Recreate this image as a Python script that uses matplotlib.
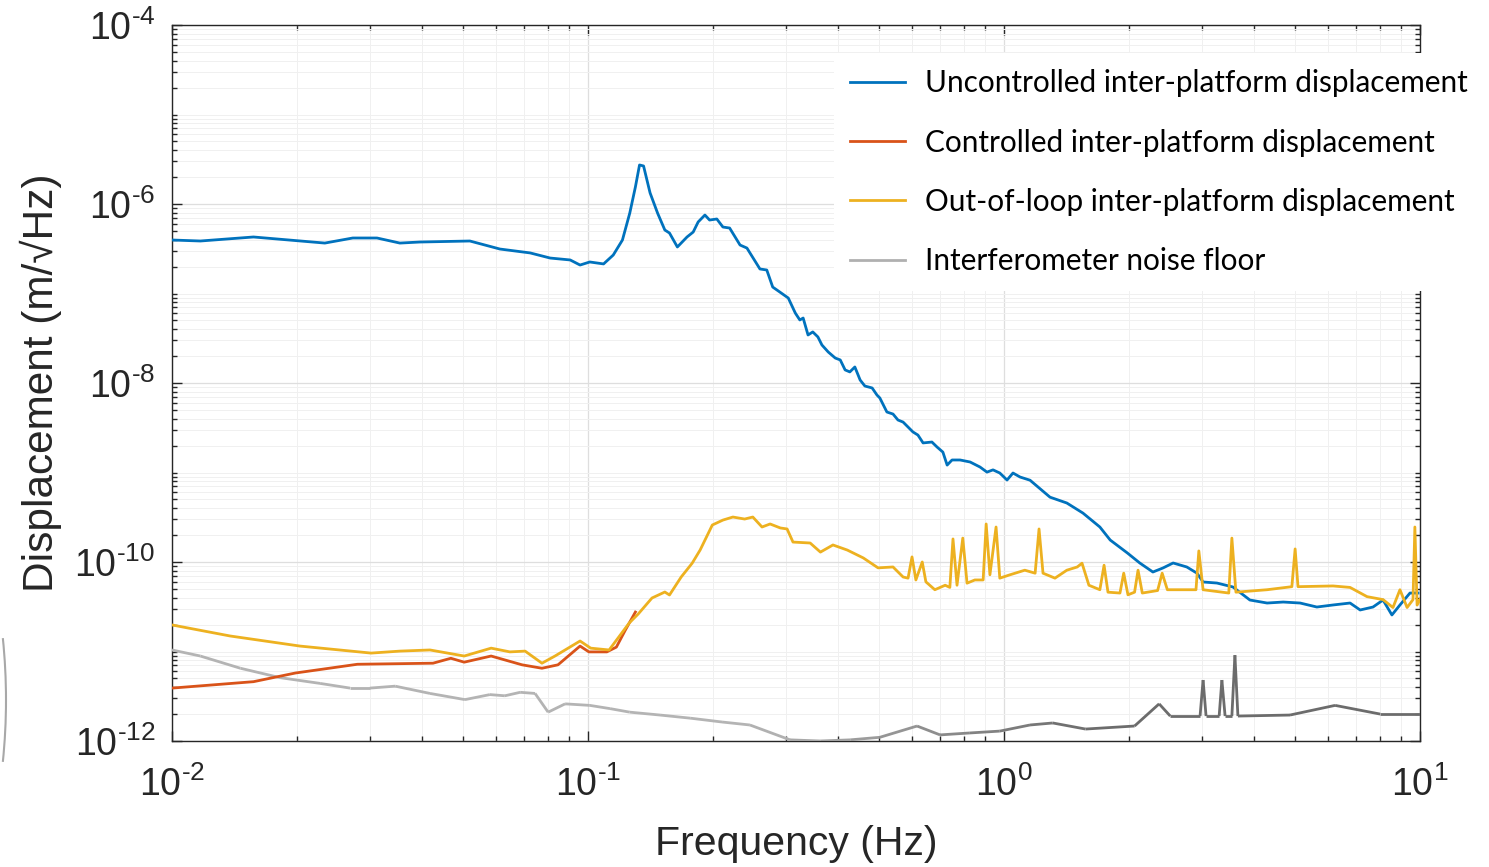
import matplotlib
matplotlib.use("Agg")
import matplotlib.pyplot as plt
import numpy as np
from matplotlib.collections import LineCollection
from matplotlib.patches import Arc
from matplotlib.ticker import FixedLocator, FuncFormatter, NullFormatter
from matplotlib.colors import to_rgb

plt.rcParams["font.family"] = ["Liberation Sans"]
plt.rcParams["mathtext.fontset"] = "custom"
plt.rcParams["mathtext.rm"] = "Liberation Sans"
plt.rcParams["mathtext.default"] = "regular"
plt.rcParams["axes.unicode_minus"] = False

# --- data (frequency in Hz, displacement in m/sqrt(Hz)) ---
uncontrolled_f = [0.01, 0.0117, 0.0157, 0.0233, 0.0272, 0.0311, 0.0353, 0.0394, 0.052, 0.0614,
                  0.0726, 0.0811, 0.0906, 0.0957, 0.101, 0.109, 0.115, 0.121, 0.126, 0.130,
                  0.133, 0.136, 0.141, 0.147, 0.153, 0.157, 0.164, 0.173, 0.179, 0.184,
                  0.191, 0.196, 0.204, 0.211, 0.219, 0.232, 0.241, 0.259, 0.269, 0.278,
                  0.289, 0.303, 0.315, 0.323, 0.329, 0.338, 0.347, 0.357, 0.365, 0.378,
                  0.393, 0.404, 0.415, 0.426, 0.438, 0.451, 0.463, 0.482, 0.495, 0.503,
                  0.523, 0.541, 0.556, 0.572, 0.588, 0.604, 0.621, 0.639, 0.671, 0.690,
                  0.713, 0.730, 0.750, 0.784, 0.829, 0.876, 0.910, 0.941, 0.977, 1.017,
                  1.051, 1.093, 1.155, 1.29, 1.416, 1.548, 1.70, 1.80, 1.98, 2.12,
                  2.28, 2.41, 2.55, 2.75, 2.91, 3.01, 3.25, 3.55, 3.90, 4.29,
                  4.69, 5.15, 5.65, 6.18, 6.79, 7.18, 7.71, 8.15, 8.56, 8.95, 9.46, 9.89]
uncontrolled_d = [3.96e-7, 3.86e-7, 4.28e-7, 3.66e-7, 4.17e-7, 4.17e-7, 3.66e-7, 3.76e-7, 3.86e-7, 3.14e-7,
                  2.84e-7, 2.49e-7, 2.37e-7, 2.08e-7, 2.25e-7, 2.14e-7, 2.69e-7, 3.96e-7, 7.9e-7, 1.55e-6,
                  2.73e-6, 2.66e-6, 1.33e-6, 7.9e-7, 5.12e-7, 4.74e-7, 3.31e-7, 4.28e-7, 4.86e-7, 6.3e-7,
                  7.53e-7, 6.62e-7, 6.8e-7, 5.53e-7, 5.39e-7, 3.48e-7, 3.22e-7, 1.88e-7, 1.83e-7, 1.18e-7,
                  1.04e-7, 8.9e-8, 6.05e-8, 5.06e-8, 5.32e-8, 3.44e-8, 3.72e-8, 3.27e-8, 2.66e-8, 2.22e-8,
                  1.90e-8, 1.81e-8, 1.40e-8, 1.33e-8, 1.51e-8, 1.08e-8, 9.25e-9, 8.8e-9, 7.34e-9, 6.8e-9,
                  4.74e-9, 4.5e-9, 3.86e-9, 3.66e-9, 3.22e-9, 2.84e-9, 2.62e-9, 2.14e-9, 2.19e-9, 1.93e-9,
                  1.69e-9, 1.21e-9, 1.38e-9, 1.38e-9, 1.31e-9, 1.15e-9, 1.01e-9, 1.07e-9, 9.87e-10, 8.24e-10,
                  9.87e-10, 8.9e-10, 8.2e-10, 5.3e-10, 4.56e-10, 3.52e-10, 2.46e-10, 1.76e-10, 1.26e-10, 9.75e-11,
                  7.73e-11, 8.57e-11, 9.75e-11, 8.8e-11, 7.5e-11, 5.98e-11, 5.82e-11, 5.26e-11, 3.76e-11, 3.48e-11,
                  3.57e-11, 3.48e-11, 3.14e-11, 3.31e-11, 3.48e-11, 2.91e-11, 3.14e-11, 3.76e-11, 2.56e-11, 3.31e-11, 4.5e-11, 4.5e-11]

controlled_f = [0.01, 0.0157, 0.0198, 0.0279, 0.0424, 0.0468, 0.0504, 0.0585, 0.0694, 0.0775,
                0.0847, 0.0957, 0.1005, 0.111, 0.117, 0.123, 0.130]
controlled_d = [3.9e-12, 4.6e-12, 5.75e-12, 7.2e-12, 7.4e-12, 8.4e-12, 7.6e-12, 8.9e-12, 7.1e-12, 6.5e-12,
                7.1e-12, 1.15e-11, 9.9e-12, 9.9e-12, 1.12e-11, 1.74e-11, 2.76e-11]

outofloop_f = [0.01, 0.0138, 0.0203, 0.0301, 0.0353, 0.0417, 0.0504, 0.0585, 0.0649, 0.0706,
               0.0775, 0.0833, 0.0957, 0.1015, 0.1124, 0.1256, 0.132, 0.1425, 0.153, 0.157,
               0.1675, 0.178, 0.186, 0.199, 0.211, 0.223, 0.238, 0.249, 0.262, 0.274,
               0.290, 0.301, 0.311, 0.342, 0.362, 0.388, 0.420, 0.459, 0.498, 0.541,
               0.572, 0.588, 0.601, 0.614, 0.636, 0.649, 0.682, 0.722, 0.741, 0.754,
               0.771, 0.796, 0.815, 0.851, 0.891, 0.906, 0.925, 0.957, 0.977, 1.034,
               1.122, 1.188, 1.214, 1.241, 1.326, 1.416, 1.50, 1.54, 1.60, 1.70,
               1.74, 1.778, 1.90, 1.94, 1.986, 2.06, 2.10, 2.15, 2.34, 2.40,
               2.47, 2.894, 2.94, 3.01, 3.47, 3.53, 3.61, 4.29, 4.92, 5.01,
               5.09, 6.18, 6.79, 7.46, 8.15, 8.61, 8.95, 9.31, 9.62, 9.72, 9.84, 10.0]
outofloop_d = [1.98e-11, 1.49e-11, 1.15e-11, 9.6e-12, 1.01e-11, 1.04e-11, 8.9e-12, 1.09e-11, 9.9e-12, 1.01e-11,
               7.4e-12, 8.9e-12, 1.31e-11, 1.09e-11, 1.04e-11, 2.08e-11, 2.62e-11, 3.96e-11, 4.62e-11, 4.28e-11,
               6.8e-11, 9.7e-11, 1.36e-10, 2.59e-10, 2.94e-10, 3.18e-10, 3.02e-10, 3.18e-10, 2.46e-10, 2.66e-10,
               2.40e-10, 2.34e-10, 1.67e-10, 1.63e-10, 1.29e-10, 1.55e-10, 1.36e-10, 1.11e-10, 8.6e-11, 8.8e-11,
               6.8e-11, 6.6e-11, 1.14e-10, 6.3e-11, 1.0e-10, 6.0e-11, 4.9e-11, 5.5e-11, 5.2e-11, 1.81e-10,
               5.5e-11, 1.85e-10, 5.8e-11, 6.3e-11, 6.3e-11, 2.66e-10, 7.2e-11, 2.46e-10, 6.6e-11, 7.2e-11,
               8.1e-11, 7.5e-11, 2.34e-10, 7.5e-11, 6.6e-11, 8.1e-11, 8.8e-11, 9.7e-11, 5.5e-11, 4.9e-11,
               9.2e-11, 4.6e-11, 4.5e-11, 7.5e-11, 4.3e-11, 4.6e-11, 8.1e-11, 4.5e-11, 4.8e-11, 7.5e-11,
               4.9e-11, 4.9e-11, 1.33e-10, 4.9e-11, 4.5e-11, 1.85e-10, 4.6e-11, 4.9e-11, 5.3e-11, 1.40e-10,
               5.3e-11, 5.4e-11, 5.2e-11, 4.1e-11, 3.8e-11, 3.1e-11, 4.9e-11, 3.1e-11, 3.8e-11, 2.46e-10, 3.3e-11, 3.8e-11]

noise_f = [0.01, 0.0117, 0.0146, 0.0182, 0.0227, 0.0268, 0.0299, 0.0344, 0.0417, 0.0506,
           0.0581, 0.0631, 0.0687, 0.0746, 0.0802, 0.0881, 0.101, 0.113, 0.126, 0.149,
           0.176, 0.210, 0.245, 0.306, 0.362, 0.427, 0.503, 0.618, 0.702, 0.828,
           0.977, 1.155, 1.31, 1.57, 2.06, 2.36, 2.51, 2.96, 3.01, 3.06,
           3.29, 3.34, 3.40, 3.53, 3.59, 3.65, 4.87, 6.25, 8.02, 10.0]
noise_d = [1.04e-11, 8.9e-12, 6.5e-12, 5.1e-12, 4.4e-12, 3.9e-12, 3.9e-12, 4.1e-12, 3.4e-12, 2.9e-12,
           3.3e-12, 3.2e-12, 3.5e-12, 3.4e-12, 2.1e-12, 2.6e-12, 2.5e-12, 2.3e-12, 2.1e-12, 1.95e-12,
           1.8e-12, 1.63e-12, 1.51e-12, 1.03e-12, 1.0e-12, 1.03e-12, 1.1e-12, 1.47e-12, 1.17e-12, 1.23e-12,
           1.29e-12, 1.51e-12, 1.59e-12, 1.36e-12, 1.47e-12, 2.6e-12, 1.9e-12, 1.9e-12, 4.8e-12, 1.9e-12,
           1.9e-12, 4.8e-12, 1.9e-12, 1.9e-12, 9.1e-12, 1.9e-12, 1.95e-12, 2.5e-12, 2.0e-12, 2.0e-12]

labels = ["Uncontrolled inter-platform displacement",
          "Controlled inter-platform displacement",
          "Out-of-loop inter-platform displacement",
          "Interferometer noise floor"]

BLUE = "#0072BD"
ORANGE = "#D95319"
YELLOW = "#EDB120"
GRAY = "#b0b0b0"
INK = "#262626"

W, H = 1489, 867
fig = plt.figure(figsize=(W / 100, H / 100), dpi=100)
ax = fig.add_axes([172 / W, 126 / H, 1248 / W, 716 / H])
ax.set_xscale("log")
ax.set_yscale("log")

lw = 2.0

# noise floor: fades from light to dark grey with frequency
nf = np.array(noise_f)
nd = np.array(noise_d)
pts = np.column_stack([nf, nd]).reshape(-1, 1, 2)
segs = np.concatenate([pts[:-1], pts[1:]], axis=1)
light, dark = np.array(to_rgb("#b4b4b4")), np.array(to_rgb("#6c6c6c"))
mid = np.sqrt(nf[:-1] * nf[1:])
t = np.clip((np.log10(mid) + 0.6) / 0.8, 0, 1)
seg_colors = [tuple(light * (1 - v) + dark * v) for v in t]
ax.add_collection(LineCollection(segs, colors=seg_colors, linewidths=lw, zorder=3))

ax.plot(uncontrolled_f, uncontrolled_d, color=BLUE, lw=lw, zorder=4)
ax.plot(controlled_f, controlled_d, color=ORANGE, lw=lw, zorder=4)
ax.plot(outofloop_f, outofloop_d, color=YELLOW, lw=lw, zorder=4)

ax.set_xlim(1e-2, 1e1)
ax.set_ylim(1e-12, 1e-4)

# ticks like MATLAB: inside, on all four sides
xmaj = [1e-2, 1e-1, 1e0, 1e1]
ymaj = [1e-12, 1e-10, 1e-8, 1e-6, 1e-4]
xmin = [k * 10.0 ** e for e in range(-2, 1) for k in range(2, 10)]
ymin = [k * 10.0 ** e for e in range(-12, -4) for k in range(1, 10) if not (k == 1 and e % 2 == 0)]
ax.xaxis.set_major_locator(FixedLocator(xmaj))
ax.yaxis.set_major_locator(FixedLocator(ymaj))
ax.xaxis.set_minor_locator(FixedLocator(xmin))
ax.yaxis.set_minor_locator(FixedLocator(ymin))


def pow_label(v, pos):
    e = int(round(np.log10(v)))
    sign = "\u2010" if e < 0 else ""
    return r"$10^{%s%d}$" % (sign, abs(e))


ax.xaxis.set_major_formatter(FuncFormatter(pow_label))
ax.yaxis.set_major_formatter(FuncFormatter(pow_label))
ax.xaxis.set_minor_formatter(NullFormatter())
ax.yaxis.set_minor_formatter(NullFormatter())

ax.tick_params(which="both", direction="in", top=True, right=True, color=INK, width=1.0)
ax.tick_params(which="major", length=7, labelsize=27, labelcolor=INK)
ax.tick_params(axis="x", which="major", pad=18)
ax.tick_params(axis="y", which="major", pad=12)
ax.tick_params(which="minor", length=3.5)
for sp in ax.spines.values():
    sp.set_color(INK)
    sp.set_linewidth(1.0)

ax.grid(which="major", color="#dedede", lw=0.9)
ax.grid(which="minor", color="#f0f0f0", lw=0.7)
ax.set_axisbelow(True)

ax.set_xlabel("Frequency (Hz)", fontsize=29.5, color=INK)
ax.xaxis.set_label_coords(0.5, -0.118)
ax.set_ylabel("Displacement (m/\u221aHz)", fontsize=30.5, color=INK)
ax.yaxis.set_label_coords(-0.088, 0.5)

handles = [plt.Line2D([], [], color=c, lw=lw) for c in (BLUE, ORANGE, YELLOW, GRAY)]
leg = ax.legend(handles, labels, loc="upper left", bbox_to_anchor=(834 / W, 1 - 53 / H),
                bbox_transform=fig.transFigure, borderaxespad=0, frameon=True, fancybox=False,
                framealpha=1, edgecolor="none", facecolor="white",
                prop={"family": "Lato", "size": 21.4}, handlelength=1.85, handletextpad=0.67,
                labelspacing=1.05, borderpad=0.55)
for txt in leg.get_texts():
    txt.set_color("black")

# stray slide decoration at the left edge
fig.add_artist(Arc((-600 / W, 1 - 700 / H), 1212 / W, 1212 / H, theta1=-10, theta2=10,
                   transform=fig.transFigure, color="#a8a8a8", lw=1.5))

fig.savefig("out.png", dpi=100)
